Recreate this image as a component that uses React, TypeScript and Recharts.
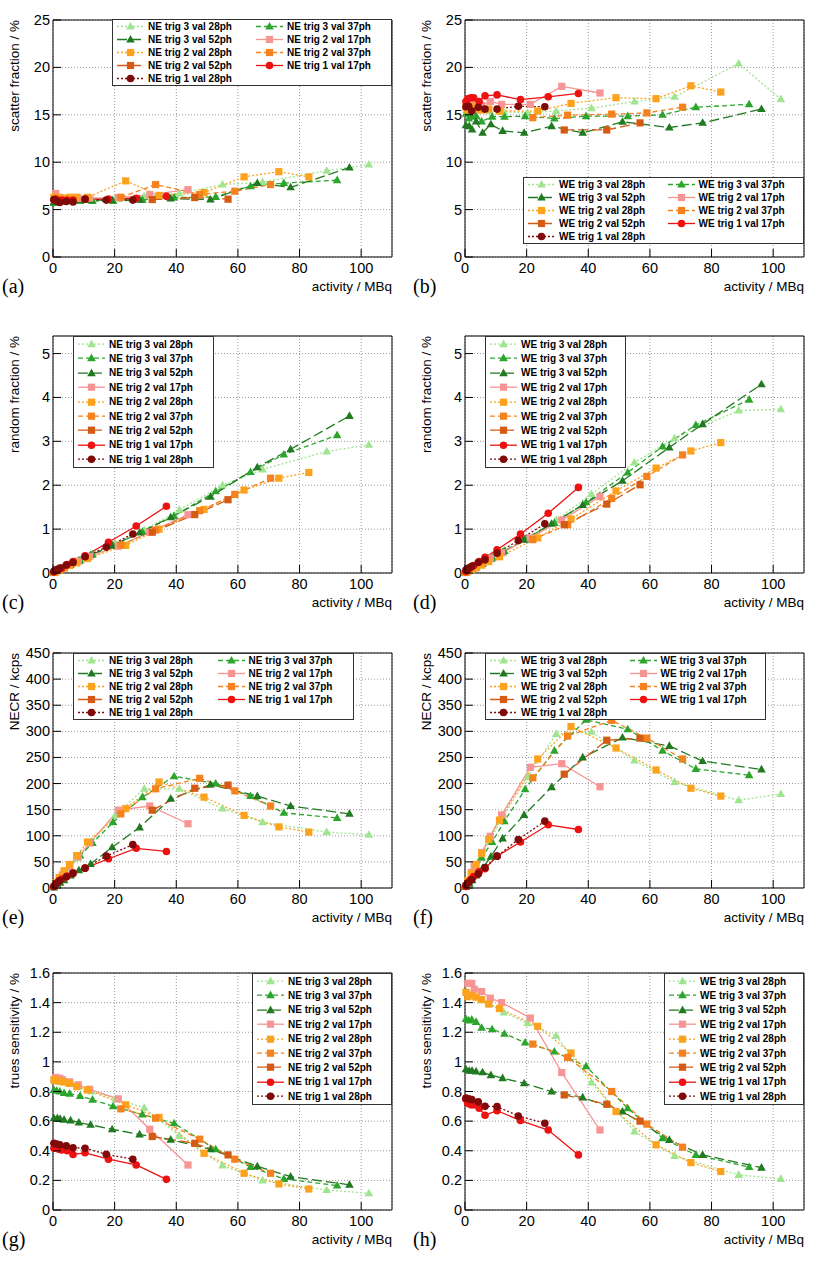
import React from 'react';
import { LineChart, Line, XAxis, YAxis, CartesianGrid, ReferenceArea } from 'recharts';

// activity points (MBq) per trigger / validation setting
const ACT_T3_28 = [0.5, 1.3, 2.3, 3.5, 5.2, 8.0, 12.6, 20.3, 29.6, 41.0, 55.0, 68.0, 88.8, 102.5];
const ACT_T3_37 = [0.3, 1.2, 2.2, 3.6, 5.4, 8.8, 12.8, 19.5, 29.0, 39.3, 52.8, 64.1, 74.9, 92.2];
const ACT_T3_52 = [0.3, 1.4, 2.3, 3.6, 5.7, 8.4, 12.2, 19.2, 28.1, 38.2, 51.1, 66.3, 77.1, 96.2];
const ACT_T2_17 = [0.9, 2.2, 3.0, 5.4, 8.2, 11.9, 21.2, 31.4, 43.8];
const ACT_T2_28 = [0.3, 0.9, 2.0, 3.6, 5.4, 7.7, 11.2, 23.6, 34.4, 49.0, 62.0, 73.3, 83.0];
const ACT_T2_37 = [22.0, 33.3, 47.6, 59.0, 70.6];
const ACT_T2_52 = [32.2, 46.0, 56.8];
const ACT_T1_17 = [0.3, 0.9, 1.9, 2.8, 4.6, 6.5, 10.4, 18.0, 27.0, 36.8];
const ACT_T1_28 = [0.3, 1.2, 2.2, 4.3, 6.5, 10.4, 17.3, 25.9];

const ACTIVITIES = [ACT_T3_28, ACT_T3_37, ACT_T3_52, ACT_T2_17, ACT_T2_28, ACT_T2_37, ACT_T2_52, ACT_T1_17, ACT_T1_28];

// rows in the same order as ACTIVITIES
const SCATTER_NE = [
  [5.9, 5.9, 6.0, 6.0, 6.05, 6.1, 6.1, 6.2, 6.4, 6.7, 7.64, 7.9, 9.1, 9.75],
  [5.7, 5.8, 5.8, 5.9, 5.9, 5.9, 5.9, 5.9, 6.0, 6.27, 6.34, 7.46, 7.8, 8.1],
  [5.8, 5.9, 5.9, 5.9, 5.95, 6.0, 6.0, 6.0, 6.05, 6.16, 6.06, 7.8, 7.35, 9.44],
  [6.7, 6.3, 6.2, 6.2, 6.2, 6.2, 6.27, 6.58, 7.1],
  [6.3, 6.3, 6.2, 6.2, 6.3, 6.3, 6.3, 8.03, 6.5, 6.8, 8.45, 9.0, 8.45],
  [6.3, 7.64, 6.6, 6.94, 7.64],
  [6.06, 6.27, 6.1],
  [6.0, 6.1, 5.9, 6.0, 6.0, 6.0, 6.1, 6.1, 6.2, 6.4],
  [6.06, 5.9, 5.75, 5.85, 5.8, 6.1, 6.0, 6.0],
];
const SCATTER_WE = [
  [15.5, 15.4, 15.6, 15.5, 15.6, 15.4, 15.3, 15.2, 15.4, 15.7, 16.4, 16.9, 20.4, 16.65],
  [15.1, 14.6, 14.8, 14.9, 14.3, 14.8, 14.8, 14.86, 14.6, 14.86, 14.86, 15.0, 15.8, 16.1],
  [13.9, 13.8, 13.45, 14.3, 13.1, 14.0, 13.3, 13.1, 13.8, 13.1, 14.26, 13.66, 14.15, 15.6],
  [16.6, 16.4, 16.2, 16.0, 16.4, 16.1, 16.1, 18.0, 17.3],
  [15.8, 15.5, 15.9, 15.6, 15.5, 15.6, 15.4, 15.4, 16.2, 16.8, 16.7, 18.06, 17.4],
  [14.7, 14.96, 15.07, 15.2, 15.8],
  [13.4, 13.4, 14.15],
  [16.4, 16.7, 16.8, 16.8, 16.4, 17.0, 17.1, 16.6, 16.9, 17.25],
  [15.85, 15.9, 15.4, 15.8, 15.6, 15.6, 15.9, 15.85],
];
const RANDOM_NE = [
  [0.02, 0.045, 0.08, 0.12, 0.17, 0.27, 0.42, 0.67, 0.98, 1.44, 2.0, 2.36, 2.77, 2.92],
  [0.01, 0.04, 0.075, 0.12, 0.18, 0.29, 0.42, 0.63, 0.94, 1.3, 1.86, 2.3, 2.7, 3.14],
  [0.01, 0.05, 0.08, 0.12, 0.19, 0.28, 0.41, 0.62, 0.92, 1.27, 1.74, 2.41, 2.82, 3.58],
  [0.03, 0.07, 0.1, 0.18, 0.27, 0.38, 0.61, 0.93, 1.33],
  [0.01, 0.03, 0.06, 0.11, 0.17, 0.23, 0.33, 0.63, 1.0, 1.45, 1.89, 2.16, 2.29],
  [0.64, 0.98, 1.42, 1.79, 2.16],
  [0.93, 1.33, 1.67],
  [0.02, 0.05, 0.08, 0.11, 0.19, 0.26, 0.39, 0.7, 1.07, 1.52],
  [0.04, 0.08, 0.11, 0.18, 0.24, 0.37, 0.59, 0.89],
];
const RANDOM_WE = [
  [0.02, 0.06, 0.1, 0.15, 0.22, 0.33, 0.5, 0.77, 1.21, 1.8, 2.52, 3.07, 3.7, 3.73],
  [0.01, 0.05, 0.09, 0.14, 0.22, 0.35, 0.5, 0.77, 1.14, 1.61, 2.29, 2.88, 3.37, 3.95],
  [0.01, 0.05, 0.09, 0.14, 0.21, 0.32, 0.47, 0.76, 1.12, 1.55, 2.1, 2.86, 3.39, 4.3],
  [0.04, 0.09, 0.12, 0.22, 0.33, 0.46, 0.8, 1.21, 1.74],
  [0.01, 0.04, 0.07, 0.12, 0.18, 0.26, 0.37, 0.8, 1.23, 1.87, 2.39, 2.78, 2.97],
  [0.76, 1.1, 1.7, 2.2, 2.69],
  [1.1, 1.57, 2.01],
  [0.03, 0.07, 0.13, 0.17, 0.26, 0.36, 0.53, 0.89, 1.36, 1.95],
  [0.07, 0.11, 0.15, 0.24, 0.3, 0.45, 0.74, 1.12],
];
const NECR_NE = [
  [4, 10, 17, 25, 37, 57, 88, 140, 190, 190, 152, 126, 107, 102],
  [2, 9, 16, 26, 40, 62, 86, 126, 174, 214, 200, 176, 144, 134],
  [1, 6, 10, 15, 24, 34, 46, 78, 116, 171, 198, 176, 157, 142],
  [8, 18, 25, 40, 60, 86, 149, 157, 123],
  [3, 10, 20, 33, 45, 62, 88, 152, 203, 174, 139, 117, 107],
  [142, 190, 210, 186, 157],
  [149, 191, 197],
  [3, 8, 14, 17, 23, 29, 38, 56, 76, 70],
  [3, 9, 14, 21, 28, 38, 61, 83],
];
const NECR_WE = [
  [6, 15, 26, 40, 60, 90, 140, 212, 295, 299, 244, 203, 168, 180],
  [3, 12, 22, 36, 58, 88, 128, 189, 263, 322, 304, 263, 228, 216],
  [2, 8, 15, 24, 38, 60, 95, 140, 193, 250, 288, 272, 243, 227],
  [12, 30, 42, 68, 99, 140, 231, 238, 194],
  [4, 14, 28, 45, 66, 93, 130, 247, 309, 268, 226, 191, 176],
  [211, 291, 321, 287, 247],
  [218, 283, 287],
  [3, 9, 16, 22, 31, 37, 61, 88, 121, 112],
  [5, 11, 16, 27, 39, 61, 93, 128],
];
const TRUES_NE = [
  [0.87, 0.87, 0.865, 0.86, 0.85, 0.83, 0.8, 0.75, 0.69, 0.5, 0.3, 0.2, 0.135, 0.113],
  [0.81, 0.805, 0.8, 0.79, 0.785, 0.77, 0.745, 0.7, 0.645, 0.585, 0.41, 0.29, 0.21, 0.165],
  [0.62, 0.62, 0.615, 0.61, 0.605, 0.59, 0.575, 0.545, 0.51, 0.475, 0.41, 0.295, 0.225, 0.17],
  [0.895, 0.89, 0.88, 0.865, 0.845, 0.815, 0.75, 0.545, 0.304],
  [0.88, 0.875, 0.87, 0.865, 0.855, 0.833, 0.81, 0.71, 0.625, 0.383, 0.248, 0.176, 0.142],
  [0.683, 0.62, 0.478, 0.343, 0.248],
  [0.496, 0.45, 0.372],
  [0.417, 0.417, 0.41, 0.405, 0.4, 0.375, 0.386, 0.343, 0.304, 0.207],
  [0.45, 0.445, 0.44, 0.433, 0.42, 0.417, 0.376, 0.343],
];
const TRUES_WE = [
  [1.47, 1.46, 1.45, 1.44, 1.42, 1.39, 1.334, 1.26, 1.176, 0.86, 0.53, 0.365, 0.237, 0.21],
  [1.29, 1.28, 1.285, 1.27, 1.23, 1.22, 1.19, 1.13, 1.07, 0.97, 0.687, 0.485, 0.372, 0.29],
  [0.95, 0.94, 0.94, 0.935, 0.93, 0.91, 0.89, 0.855, 0.8, 0.76, 0.665, 0.473, 0.372, 0.286],
  [1.53, 1.53, 1.49, 1.475, 1.43, 1.4, 1.296, 0.928, 0.54],
  [1.47, 1.44, 1.45, 1.437, 1.42, 1.39, 1.36, 1.24, 1.06, 0.665, 0.44, 0.32, 0.26],
  [1.12, 1.03, 0.8, 0.58, 0.424],
  [0.777, 0.714, 0.6],
  [0.748, 0.72, 0.71, 0.71, 0.687, 0.64, 0.67, 0.604, 0.54, 0.372],
  [0.755, 0.75, 0.745, 0.73, 0.7, 0.698, 0.635, 0.586],
];

const SERIES_LABELS = [
  'trig 3 val 28ph', 'trig 3 val 37ph', 'trig 3 val 52ph',
  'trig 2 val 17ph', 'trig 2 val 28ph', 'trig 2 val 37ph', 'trig 2 val 52ph',
  'trig 1 val 17ph', 'trig 1 val 28ph',
];
const SERIES_COLORS = ['#9fe58f', '#2ca52c', '#217a21', '#f79494', '#fca21c', '#f5821f', '#d55a14', '#ee1111', '#800a0a'];
const SERIES_DASH = ['2 2', '5 3', '10 4', '', '2 2', '5 3', '10 4', '', '2 2'];
const SERIES_MARKERS = ['tri', 'tri', 'tri', 'sq', 'sq', 'sq', 'sq', 'circ', 'circ'];

const X_TICKS = [0, 20, 40, 60, 80, 100];
const SF_TICKS = [0, 5, 10, 15, 20, 25];
const RF_TICKS = [0, 1, 2, 3, 4, 5];
const NECR_TICKS = [0, 50, 100, 150, 200, 250, 300, 350, 400, 450];
const TS_TICKS = [0, 0.2, 0.4, 0.6, 0.8, 1, 1.2, 1.4, 1.6];

const SANS = '"Liberation Sans", Arial, Helvetica, sans-serif';
const SERIF = '"Liberation Serif", "DejaVu Serif", serif';

function minorTicks(step: number, max: number) {
  const out: number[] = [];
  for (let i = 1; i * step <= max + 1e-9; i++) out.push(+(i * step).toFixed(4));
  return out;
}
const X_MINOR = minorTicks(5, 105);

const COLS = [
  { left: 0, width: 408, mLeft: 53, mRight: 16, plotRight: 392, yTitleX: 18.5, labelX: 2 },
  { left: 408, width: 409, mLeft: 57, mRight: 13, plotRight: 804, yTitleX: 431, labelX: 413 },
];
const ROWS = [
  { top: 20, bottom: 257 },
  { top: 336, bottom: 573 },
  { top: 653, bottom: 888 },
  { top: 973, bottom: 1210 },
];

const PANELS = [
  { id: 'a', pre: 'NE', vals: SCATTER_NE, yMax: 25, ticks: SF_TICKS, minor: 1, title: 'scatter fraction / %', row: 0, col: 0, lg: { x: 112, y: 19, w: 280, cols: 2 } },
  { id: 'b', pre: 'WE', vals: SCATTER_WE, yMax: 25, ticks: SF_TICKS, minor: 1, title: 'scatter fraction / %', row: 0, col: 1, lg: { x: 523, y: 177, w: 281, cols: 2 } },
  { id: 'c', pre: 'NE', vals: RANDOM_NE, yMax: 5.4, ticks: RF_TICKS, minor: 0.2, title: 'random fraction / %', row: 1, col: 0, lg: { x: 73, y: 336, w: 141, cols: 1 } },
  { id: 'd', pre: 'WE', vals: RANDOM_WE, yMax: 5.4, ticks: RF_TICKS, minor: 0.2, title: 'random fraction / %', row: 1, col: 1, lg: { x: 485, y: 336, w: 141, cols: 1 } },
  { id: 'e', pre: 'NE', vals: NECR_NE, yMax: 450, ticks: NECR_TICKS, minor: 10, title: 'NECR / kcps', row: 2, col: 0, lg: { x: 73, y: 653, w: 281, cols: 2 } },
  { id: 'f', pre: 'WE', vals: NECR_WE, yMax: 450, ticks: NECR_TICKS, minor: 10, title: 'NECR / kcps', row: 2, col: 1, lg: { x: 485, y: 653, w: 281, cols: 2 } },
  { id: 'g', pre: 'NE', vals: TRUES_NE, yMax: 1.6, ticks: TS_TICKS, minor: 0.04, title: 'trues sensitivity / %', row: 3, col: 0, lg: { x: 252, y: 973, w: 140, cols: 1 } },
  { id: 'h', pre: 'WE', vals: TRUES_WE, yMax: 1.6, ticks: TS_TICKS, minor: 0.04, title: 'trues sensitivity / %', row: 3, col: 1, lg: { x: 664, y: 973, w: 140, cols: 1 } },
];

function Marker({ kind, cx, cy, color }: { kind: string; cx: number; cy: number; color: string }) {
  if (kind === 'tri')
    return <polygon points={`${cx},${cy - 4.6} ${cx - 4.3},${cy + 3} ${cx + 4.3},${cy + 3}`} fill={color} />;
  if (kind === 'sq') return <rect x={cx - 3.6} y={cy - 3.6} width={7.2} height={7.2} fill={color} />;
  return <circle cx={cx} cy={cy} r={3.8} fill={color} />;
}

// axes are 1px thick (Recharts skips 0-sized axes); the minor axis sits 1px further out
const xTick = (p: any) => (
  <g key={`xt-${p.index}`}>
    <line x1={p.x} x2={p.x} y1={p.y} y2={p.y - 8} stroke="#000" />
    <text x={p.x} y={p.y + 16} textAnchor="middle" fontSize={14.5} fill="#000" fontFamily={SANS}>
      {p.payload.value}
    </text>
  </g>
);
const xMinorTick = (p: any) => (
  <line key={`xm-${p.index}`} x1={p.x} x2={p.x} y1={p.y - 1} y2={p.y - 5} stroke="#000" />
);
const yTick = (p: any) => (
  <g key={`yt-${p.index}`}>
    <line x1={p.x} x2={p.x + 8} y1={p.y} y2={p.y} stroke="#000" />
    <text x={p.x - 3} y={p.y + 5} textAnchor="end" fontSize={14.5} fill="#000" fontFamily={SANS}>
      {p.payload.value}
    </text>
  </g>
);
const yMinorTick = (p: any) => (
  <line key={`ym-${p.index}`} x1={p.x + 1} x2={p.x + 5} y1={p.y} y2={p.y} stroke="#000" />
);

function Panel({ panel }: { panel: (typeof PANELS)[number] }) {
  const col = COLS[panel.col];
  const row = ROWS[panel.row];
  const h = 300;
  const plotH = row.bottom - row.top;
  return (
    <div style={{ position: 'absolute', left: col.left, top: row.top - 10 }}>
      <LineChart
        width={col.width}
        height={h}
        margin={{ top: 10, right: col.mRight, bottom: h - 10 - plotH - 2, left: col.mLeft - 2 }}
      >
        <CartesianGrid stroke="#9a9a9a" strokeDasharray="1 2" />
        <XAxis dataKey="x" type="number" domain={[0, 110]} ticks={X_TICKS} interval={0} height={1}
          axisLine={false} tickLine={false} tickSize={0} tickMargin={0} tick={xTick} />
        <XAxis xAxisId="minor" dataKey="x" type="number" domain={[0, 110]} ticks={X_MINOR} interval={0} height={1}
          axisLine={false} tickLine={false} tickSize={0} tickMargin={0} tick={xMinorTick} />
        <YAxis type="number" domain={[0, panel.yMax]} ticks={panel.ticks} interval={0} width={1}
          axisLine={false} tickLine={false} tickSize={0} tickMargin={0} tick={yTick} />
        <YAxis yAxisId="minor" type="number" domain={[0, panel.yMax]} ticks={minorTicks(panel.minor, panel.yMax)}
          interval={0} width={1} axisLine={false} tickLine={false} tickSize={0} tickMargin={0} tick={yMinorTick} />
        <ReferenceArea x1={0} x2={110} y1={0} y2={panel.yMax} fill="none" stroke="#000" strokeWidth={1} />
        {panel.vals.map((ys, i) => {
          const pts = ACTIVITIES[i].map((x, j) => ({ x, y: ys[j] }));
          const color = SERIES_COLORS[i];
          return (
            <Line
              key={i}
              data={pts}
              dataKey="y"
              type="linear"
              stroke={color}
              strokeWidth={1.3}
              strokeDasharray={SERIES_DASH[i] || undefined}
              isAnimationActive={false}
              activeDot={false}
              dot={(d: any) => (
                <g key={`d-${i}-${d.index}`}>
                  {d.cx != null && d.cy != null && (
                    <Marker kind={SERIES_MARKERS[i]} cx={d.cx} cy={d.cy} color={color} />
                  )}
                </g>
              )}
            />
          );
        })}
      </LineChart>
    </div>
  );
}

function PanelLegend({ panel }: { panel: (typeof PANELS)[number] }) {
  const { x, y, w, cols } = panel.lg;
  const rowH = cols === 2 ? 13 : 14.4;
  return (
    <div
      style={{
        position: 'absolute', left: x, top: y, width: w, boxSizing: 'border-box',
        border: '1px solid #333', background: '#fff',
        display: 'grid', gridTemplateColumns: cols === 2 ? '1fr 1fr' : '1fr',
        fontFamily: SANS, fontWeight: 'bold', fontSize: 10, color: '#000',
      }}
    >
      {SERIES_LABELS.map((label, i) => (
        <div key={i} style={{ height: rowH, display: 'flex', alignItems: 'center', whiteSpace: 'nowrap' }}>
          <svg width={35} height={rowH} style={{ flex: 'none' }}>
            <line x1={4} x2={31} y1={rowH / 2} y2={rowH / 2} stroke={SERIES_COLORS[i]} strokeWidth={1.3}
              strokeDasharray={SERIES_DASH[i] || undefined} />
            <Marker kind={SERIES_MARKERS[i]} cx={17.5} cy={rowH / 2} color={SERIES_COLORS[i]} />
          </svg>
          <span>{panel.pre} {label}</span>
        </div>
      ))}
    </div>
  );
}

export default function App() {
  return (
    <div style={{ position: 'absolute', left: 0, top: 0, width: 817, height: 1262, background: '#fff', fontFamily: SANS }}>
      {PANELS.map((p) => <Panel key={p.id} panel={p} />)}
      {PANELS.map((p) => <PanelLegend key={`lg-${p.id}`} panel={p} />)}
      <svg width={817} height={1262} style={{ position: 'absolute', left: 0, top: 0, pointerEvents: 'none' }}>
        {PANELS.map((p) => {
          const col = COLS[p.col];
          const row = ROWS[p.row];
          return (
            <g key={`t-${p.id}`}>
              <text transform={`translate(${col.yTitleX},${row.top}) rotate(-90)`} textAnchor="end"
                fontSize={13.5} fontFamily={SANS} fill="#000">{p.title}</text>
              <text x={col.plotRight} y={row.bottom + 34} textAnchor="end" fontSize={13.5} fontFamily={SANS} fill="#000">
                activity / MBq
              </text>
              <text x={col.labelX} y={row.bottom + 36} fontSize={20} fontFamily={SERIF} fill="#000">({p.id})</text>
            </g>
          );
        })}
      </svg>
    </div>
  );
}
